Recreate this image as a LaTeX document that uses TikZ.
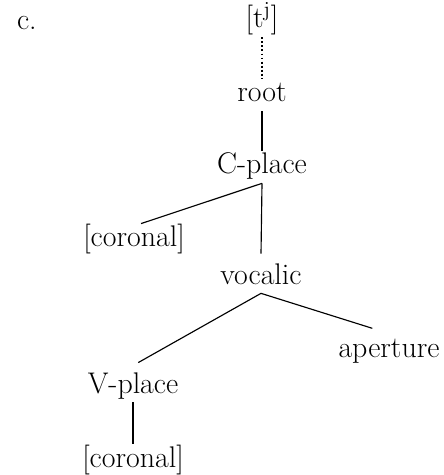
\documentclass[tikz,border=0pt]{standalone}
\usepackage{amsmath,amssymb}
\usepackage{tikz}

\begin{document}
\begin{tikzpicture}
[x=0.02cm,y=-0.02cm,line width=0.65pt,every node/.style={font=\fontsize{17}{20}\selectfont,inner sep=2pt,text height=11pt,text depth=3pt,anchor=base}]
\useasboundingbox (0,0) rectangle (443,475);
\node[anchor=base west] (lbl) at (13,30) {c.};
\node (tj) at (262,28) {[t$^{\mathrm{j}}$]};
\node (root) at (262,102) {root};
\node (cplace) at (262,174) {C-place};
\node (cor1) at (134,247) {[coronal]};
\node (voc) at (261,284) {vocalic};
\node (apert) at (389,357) {aperture};
\node (vplace) at (133,393) {V-place};
\node (cor2) at (133,467) {[coronal]};

\draw[line width=1.2pt,dash pattern=on 1.1pt off 1.2pt] (tj.south) -- (root.north);
\foreach \from/\to in {root/cplace,vplace/cor2}
\draw (\from.south) -- (\to.north);
\draw (cplace.south) -- ([xshift=4pt]cor1.north);
\draw (cplace.south) -- ([yshift=4pt]voc.north);
\draw (voc.south) -- ([xshift=3pt,yshift=4pt]vplace.north);
\draw (voc.south) -- ([xshift=-9.5pt,yshift=3pt]apert.north);
\end{tikzpicture}
\end{document}
